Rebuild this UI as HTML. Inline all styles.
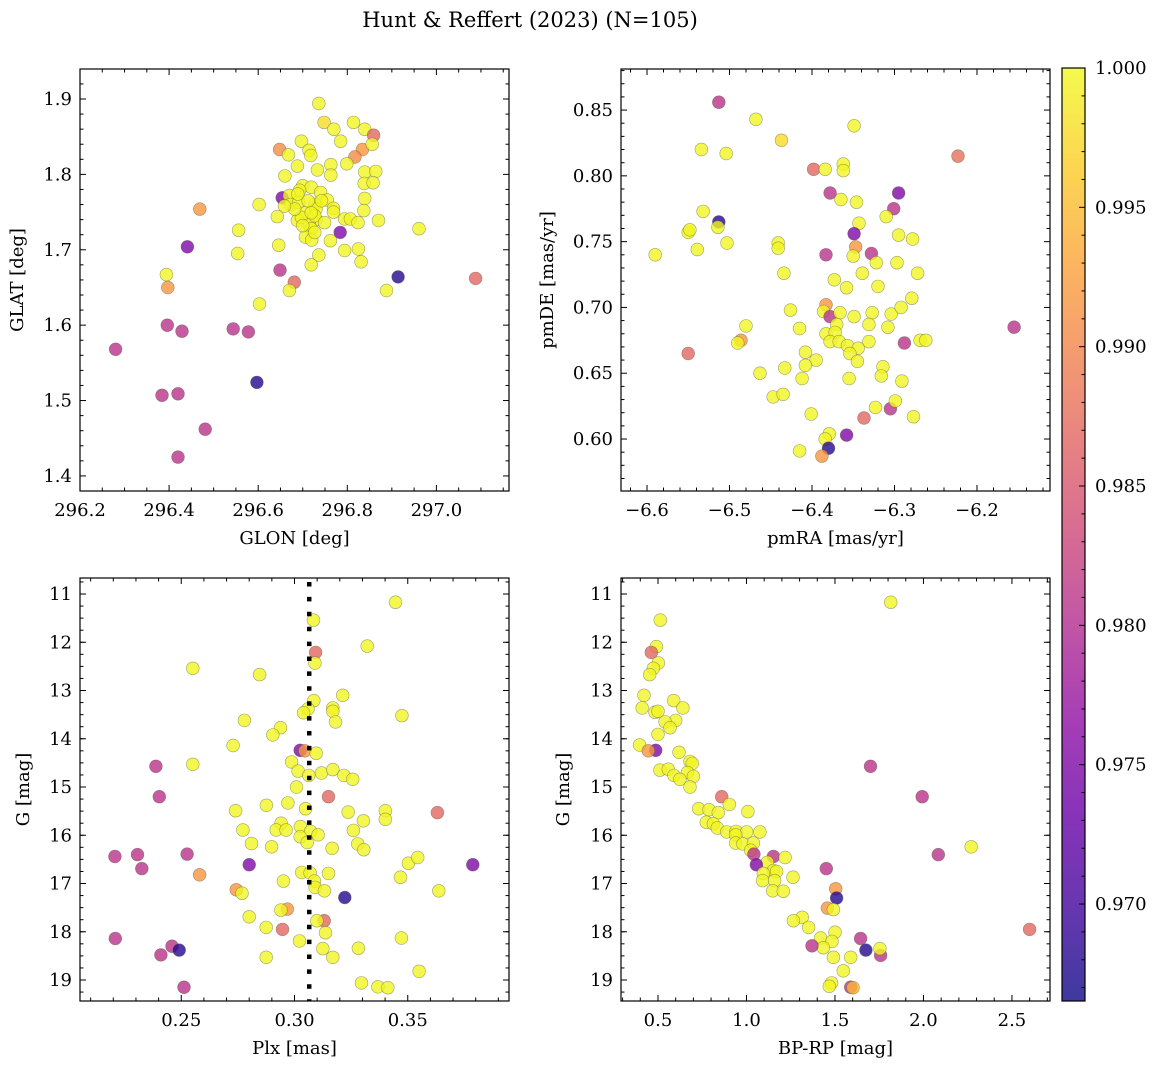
<!DOCTYPE html>
<html><head><meta charset="utf-8"><style>
html,body{margin:0;padding:0;background:#fff;}
svg{display:block;font-family:"DejaVu Serif","Liberation Serif",serif;}
</style></head><body>
<svg id="fig" width="1161" height="1068" viewBox="0 0 1161 1068" xmlns="http://www.w3.org/2000/svg">
<defs>
<linearGradient id="plasmaGrad" x1="0" y1="1" x2="0" y2="0">
<stop offset="0" stop-color="#0d0887"/><stop offset="0.1" stop-color="#41049d"/><stop offset="0.2" stop-color="#6a00a8"/><stop offset="0.3" stop-color="#8f0da4"/><stop offset="0.4" stop-color="#b12a90"/><stop offset="0.5" stop-color="#cc4778"/><stop offset="0.6" stop-color="#e16462"/><stop offset="0.7" stop-color="#f2844b"/><stop offset="0.8" stop-color="#fca636"/><stop offset="0.9" stop-color="#fcce25"/><stop offset="1" stop-color="#f0f921"/>
</linearGradient>
</defs>
<text x="530" y="27" text-anchor="middle" font-size="21">Hunt &amp; Reffert (2023) (N=105)</text>
</svg>
<script>
// ---- data ----
const glonVals=[296.736,296.748,296.770,296.814,296.839,296.859,296.785,296.697,296.648,296.834,296.856,296.817,296.714,296.718,296.668,296.688,296.733,296.763,296.799,296.763,296.660,296.839,296.864,296.838,296.858,296.654,296.700,296.719,296.740,296.693,296.670,296.673,296.691,296.727,296.755,296.769,296.769,296.706,296.730,296.688,296.697,296.730,296.715,296.719,296.706,296.720,296.839,296.837,296.794,296.807,296.824,296.870,296.602,296.643,296.784,296.762,296.794,296.825,296.831,296.736,296.719,296.646,296.556,296.554,296.469,296.441,296.961,296.914,296.888,297.088,296.649,296.681,296.670,296.603,296.394,296.397,296.396,296.429,296.544,296.578,296.280,296.597,296.384,296.420,296.481,296.420,296.727,296.712,296.742,296.682,296.700,296.727,296.689,296.749,296.659,296.719];
const glatVals=[1.894,1.869,1.860,1.869,1.860,1.852,1.844,1.844,1.833,1.833,1.840,1.823,1.832,1.825,1.826,1.811,1.806,1.813,1.814,1.799,1.798,1.803,1.804,1.788,1.789,1.769,1.785,1.783,1.776,1.779,1.772,1.760,1.763,1.760,1.766,1.755,1.750,1.749,1.754,1.739,1.743,1.740,1.733,1.728,1.717,1.713,1.768,1.752,1.741,1.741,1.736,1.739,1.760,1.744,1.723,1.712,1.699,1.701,1.684,1.693,1.680,1.706,1.726,1.695,1.754,1.704,1.728,1.664,1.646,1.662,1.673,1.657,1.646,1.628,1.667,1.650,1.600,1.592,1.595,1.591,1.568,1.524,1.507,1.509,1.462,1.425,1.745,1.765,1.765,1.754,1.732,1.723,1.774,1.736,1.758,1.749];
const prob1=[1,0.998,1,1,1,0.987,1,1,0.991,0.992,1,0.991,1,1,1,1,1,1,1,1,1,1,1,1,1,0.975,1,1,1,1,1,1,1,1,1,1,1,1,1,1,1,1,1,1,1,1,1,1,1,1,1,1,1,1,0.975,1,1,1,1,1,1,1,1,1,0.992,0.975,1,0.968,1,0.987,0.981,0.987,1,1,1,0.992,0.981,0.981,0.981,0.981,0.981,0.968,0.981,0.981,0.981,0.981,1,1,1,1,1,1,1,1,1,1];

const pmraVals=[-6.513,-6.468,-6.437,-6.349,-6.534,-6.504,-6.223,-6.398,-6.384,-6.362,-6.362,-6.378,-6.365,-6.346,-6.295,-6.301,-6.310,-6.343,-6.532,-6.513,-6.514,-6.550,-6.548,-6.503,-6.539,-6.590,-6.441,-6.441,-6.349,-6.347,-6.383,-6.328,-6.350,-6.322,-6.295,-6.278,-6.297,-6.434,-6.373,-6.339,-6.272,-6.358,-6.320,-6.279,-6.426,-6.383,-6.386,-6.378,-6.366,-6.349,-6.327,-6.331,-6.370,-6.304,-6.292,-6.308,-6.155,-6.480,-6.486,-6.490,-6.550,-6.415,-6.383,-6.372,-6.378,-6.367,-6.357,-6.344,-6.331,-6.354,-6.345,-6.288,-6.269,-6.262,-6.408,-6.395,-6.408,-6.433,-6.463,-6.412,-6.355,-6.314,-6.316,-6.291,-6.447,-6.435,-6.401,-6.323,-6.305,-6.299,-6.337,-6.277,-6.379,-6.384,-6.358,-6.380,-6.415,-6.388];
const pmdeVals=[0.856,0.843,0.827,0.838,0.820,0.817,0.815,0.805,0.805,0.809,0.804,0.787,0.782,0.780,0.787,0.775,0.769,0.764,0.773,0.765,0.761,0.757,0.759,0.749,0.744,0.740,0.749,0.745,0.756,0.746,0.740,0.741,0.739,0.734,0.755,0.752,0.734,0.726,0.721,0.726,0.726,0.715,0.716,0.707,0.698,0.702,0.697,0.693,0.696,0.693,0.696,0.687,0.687,0.695,0.700,0.685,0.685,0.686,0.675,0.673,0.665,0.684,0.680,0.681,0.674,0.674,0.671,0.669,0.674,0.665,0.659,0.673,0.675,0.675,0.666,0.660,0.656,0.654,0.650,0.646,0.646,0.655,0.648,0.644,0.632,0.634,0.619,0.624,0.623,0.629,0.616,0.617,0.604,0.600,0.603,0.593,0.591,0.587];
const prob2=[0.981,1,0.998,1,1,1,0.988,0.987,1,1,1,0.981,1,1,0.975,0.981,1,1,1,0.968,1,1,1,1,1,1,1,1,0.975,0.992,0.981,0.981,1,1,1,1,1,1,1,1,1,1,1,1,1,0.992,1,0.981,1,1,1,1,1,1,1,1,0.981,1,0.992,1,0.987,1,1,1,1,1,1,1,1,1,1,0.981,1,1,1,1,1,1,1,1,1,1,1,1,1,1,1,1,0.981,1,0.987,1,1,1,0.975,0.968,1,0.992];

const plxVals=[0.3446,0.3084,0.3321,0.3093,0.3090,0.2551,0.2846,0.3213,0.3085,0.3169,0.3169,0.3060,0.3040,0.3181,0.3474,0.2779,0.2938,0.2904,0.2729,0.3025,0.3046,0.3096,0.2388,0.2551,0.2987,0.3016,0.3063,0.3119,0.3169,0.3218,0.3257,0.3009,0.2403,0.3150,0.2740,0.2876,0.2971,0.3049,0.3237,0.3401,0.3401,0.3304,0.3631,0.2941,0.2919,0.2963,0.2772,0.3026,0.3071,0.3104,0.3025,0.3056,0.3260,0.2810,0.2899,0.3166,0.3279,0.3306,0.2207,0.2307,0.2326,0.2526,0.2800,0.3503,0.3544,0.3787,0.2581,0.3032,0.3069,0.3150,0.3088,0.2951,0.3468,0.3091,0.3132,0.2743,0.2768,0.3222,0.3637,0.2968,0.2940,0.2800,0.3131,0.3099,0.2875,0.2947,0.3137,0.3022,0.2209,0.3472,0.2459,0.2491,0.2410,0.3125,0.3282,0.3169,0.2875,0.3550,0.3296,0.3368,0.3412,0.2512];
const gmag3=[11.17,11.54,12.08,12.21,12.43,12.54,12.67,13.10,13.21,13.36,13.43,13.38,13.46,13.65,13.52,13.62,13.77,13.92,14.14,14.24,14.25,14.30,14.57,14.53,14.48,14.67,14.76,14.71,14.64,14.76,14.84,15.00,15.20,15.20,15.49,15.38,15.33,15.45,15.52,15.49,15.67,15.70,15.53,15.75,15.89,15.89,15.89,15.82,15.92,15.99,16.03,16.15,15.90,16.17,16.24,16.27,16.18,16.30,16.44,16.40,16.69,16.39,16.61,16.58,16.46,16.61,16.82,16.77,16.78,16.79,16.95,16.95,16.87,17.08,17.15,17.13,17.20,17.29,17.15,17.53,17.55,17.69,17.77,17.77,17.91,17.95,18.02,18.19,18.14,18.13,18.30,18.38,18.48,18.35,18.34,18.53,18.53,18.82,19.06,19.14,19.16,19.15];
const prob3=[1,1,1,0.987,1,1,1,1,1,1,1,1,1,1,1,1,1,1,1,0.975,0.992,1,0.981,1,1,1,1,1,1,1,1,1,0.981,0.987,1,1,1,1,1,1,1,1,0.987,1,1,1,1,1,1,1,1,1,1,1,1,1,1,1,0.981,0.981,0.981,0.981,0.975,1,1,0.975,0.992,1,1,1,1,1,1,1,1,0.992,1,0.968,1,0.992,1,1,0.987,1,1,0.987,1,1,0.981,1,0.981,0.968,0.981,1,1,1,1,1,1,1,1,0.981];

const bprpVals=[1.815,0.513,0.491,0.462,0.502,0.474,0.453,0.421,0.410,0.589,0.641,0.483,0.500,0.600,0.540,0.568,0.500,0.396,0.487,0.445,0.619,0.681,0.694,0.511,0.558,0.590,0.666,0.700,0.624,0.681,0.860,0.903,0.730,0.788,0.841,1.008,0.773,0.813,0.835,0.888,0.941,1.001,1.076,0.939,0.939,0.980,1.039,1.024,1.042,1.152,1.218,1.118,1.056,1.701,1.993,2.084,2.270,1.451,1.152,1.170,1.095,1.091,1.159,1.263,1.148,1.208,1.504,1.509,1.457,1.491,1.315,1.265,1.351,1.500,1.419,1.483,1.434,1.370,1.645,1.675,1.758,1.754,1.491,1.589,1.547,1.481,1.468,1.589,1.602,2.600];
const gmag4=[11.17,11.54,12.09,12.21,12.43,12.54,12.67,13.10,13.36,13.21,13.36,13.45,13.43,13.62,13.65,13.77,13.91,14.13,14.24,14.25,14.28,14.47,14.51,14.65,14.63,14.76,14.70,14.78,14.84,15.00,15.20,15.36,15.45,15.47,15.53,15.51,15.73,15.76,15.85,15.93,15.92,15.93,15.93,15.99,16.16,16.18,16.16,16.31,16.39,16.44,16.46,16.56,16.61,14.57,15.20,16.40,16.24,16.69,16.73,16.75,16.79,16.94,16.94,16.87,17.15,17.16,17.11,17.30,17.51,17.54,17.70,17.77,17.91,18.01,18.13,18.20,18.33,18.29,18.14,18.38,18.49,18.35,18.53,18.53,18.81,19.06,19.13,19.15,19.16,17.95];
const prob4=[1,1,1,0.987,1,1,1,1,1,1,1,1,1,1,1,1,1,1,0.975,0.992,1,1,1,1,1,1,1,1,1,1,0.987,1,1,1,1,1,1,1,1,1,1,1,1,1,1,1,1,1,0.981,0.981,1,1,0.975,0.981,0.981,0.981,1,0.981,1,1,1,1,1,1,1,1,0.992,0.968,0.992,1,1,1,1,1,1,1,1,0.981,0.981,0.968,0.981,1,1,1,1,1,1,0.981,0.995,0.987];

const cbarTicks=[0.970,0.975,0.980,0.985,0.990,0.995,1.000];
const cMin=0.96652, cMax=1.0003;

// ---- helpers ----
const NS="http://www.w3.org/2000/svg";
const svg=document.getElementById('fig');
const FS=18;
function mk(tag,attrs,parent){const e=document.createElementNS(NS,tag);for(const k in attrs)e.setAttribute(k,attrs[k]);(parent||svg).appendChild(e);return e;}
const stops=[[13,8,135],[65,4,157],[106,0,168],[143,13,164],[177,42,144],[204,71,120],[225,100,98],[242,132,75],[252,166,54],[252,206,37],[240,249,33]];
function plasma(t){t=Math.max(0,Math.min(1,t));const f=t*10,i=Math.min(9,Math.floor(f)),u=f-i;const a=stops[i],b=stops[i+1];return 'rgb('+a.map((v,k)=>Math.round(v+(b[k]-v)*u)).join(',')+')';}
function colorOf(p){return plasma((p-cMin)/(cMax-cMin));}
function fmt(v,d){const s=Math.abs(v).toFixed(d);return (v<0?'\u2212':'')+s;}

function panel(name,box,xr,yr,xMaj,xMinStep,xDec,yMaj,yMinStep,yDec,xs,ys,ps,xlabel,ylabel,ylabX){
  const [x0,y0,x1,y1]=box;
  const g=mk('g',{});
  
  
  const sx=v=>x0+(v-xr[0])/(xr[1]-xr[0])*(x1-x0);
  const sy=v=>y1-(v-yr[0])/(yr[1]-yr[0])*(y1-y0);
  const pts=mk('g',{},g);
  
  
  for(let i=0;i<xs.length;i++){
    const c=mk('circle',{cx:sx(xs[i]).toFixed(1),cy:sy(ys[i]).toFixed(1),r:6.4,fill:colorOf(ps[i]),'fill-opacity':0.8,stroke:'rgba(90,90,60,0.55)','stroke-width':0.6},pts);
    
    
  }
  const tk=mk('g',{stroke:'#000','stroke-width':1},g);
  
  
  const eps=1e-9;
  let start=Math.ceil((xr[0]-eps)/xMinStep);
  for(let k=start;k*xMinStep<=xr[1]+eps;k++){
    const v=k*xMinStep,X=sx(v);
    const major=xMaj.some(m=>Math.abs(m-v)<xMinStep/10);
    const L=major?6:3.5;
    mk('line',{x1:X,y1:y1,x2:X,y2:y1-L},tk);mk('line',{x1:X,y1:y0,x2:X,y2:y0+L},tk);
  }
  start=Math.ceil((yr[0]-eps)/yMinStep);
  for(let k=start;k*yMinStep<=yr[1]+eps;k++){
    const v=k*yMinStep,Y=sy(v);
    const major=yMaj.some(m=>Math.abs(m-v)<yMinStep/10);
    const L=major?6:3.5;
    mk('line',{x1:x0,y1:Y,x2:x0+L,y2:Y},tk);mk('line',{x1:x1,y1:Y,x2:x1-L,y2:Y},tk);
  }
  xMaj.forEach(v=>{const t=mk('text',{x:sx(v),y:y1+25,'text-anchor':'middle','font-size':FS},g);t.textContent=fmt(v,xDec);});
  yMaj.forEach(v=>{const t=mk('text',{x:x0-8,y:sy(v)+6,'text-anchor':'end','font-size':FS},g);t.textContent=fmt(v,yDec);});
  const xl=mk('text',{x:(x0+x1)/2,y:y1+53,'text-anchor':'middle','font-size':FS},g);xl.textContent=xlabel;
  
  const yl=mk('text',{x:0,y:0,'text-anchor':'middle','font-size':FS,transform:'translate('+ylabX+','+((y0+y1)/2)+') rotate(-90)'},g);yl.textContent=ylabel;
  
  const fr=mk('rect',{x:x0,y:y0,width:x1-x0,height:y1-y0,fill:'none',stroke:'#000','stroke-width':1.2},g);
  
  return {sx,sy,g};
}

panel('glon-glat-panel',[80,69,509,491],[296.2,297.163],[1.380,1.9398],[296.2,296.4,296.6,296.8,297.0],0.05,1,[1.4,1.5,1.6,1.7,1.8,1.9],0.02,1,glonVals,glatVals,prob1,'GLON [deg]','GLAT [deg]',23);
panel('pm-panel',[621,69,1050,491],[-6.6315,-6.1115],[0.5605,0.8812],[-6.6,-6.5,-6.4,-6.3,-6.2],0.02,1,[0.60,0.65,0.70,0.75,0.80,0.85],0.01,2,pmraVals,pmdeVals,prob2,'pmRA [mas/yr]','pmDE [mas/yr]',553);
const p3=panel('plx-g-panel',[80,578,509,1001],[0.2053,0.3947],[-19.435,-10.668],[0.25,0.30,0.35],0.01,2,[],0.25,0,plxVals,gmag3.map(v=>-v),prob3,'Plx [mas]','G [mag]',29);
const p4=panel('cmd-panel',[621,578,1050,1001],[0.291,2.715],[-19.435,-10.668],[0.5,1.0,1.5,2.0,2.5],0.1,1,[],0.25,0,bprpVals,gmag4.map(v=>-v),prob4,'BP-RP [mag]','G [mag]',569);
const gTicks=[11,12,13,14,15,16,17,18,19];
[p3,p4].forEach((p,idx)=>{
  const x0=idx?621:80;
  gTicks.forEach(v=>{
    const Y=p.sy(-v);
    const t=mk('text',{x:x0-8,y:Y+6,'text-anchor':'end','font-size':FS},p.g);t.textContent=String(v);
    
    mk('line',{x1:x0,y1:Y,x2:x0+6,y2:Y,stroke:'#000'},p.g);
    mk('line',{x1:x0+429,y1:Y,x2:x0+423,y2:Y,stroke:'#000'},p.g);
  });
});
const plxMean=0.3065;
const ml=mk('line',{x1:p3.sx(plxMean),y1:582,x2:p3.sx(plxMean),y2:1001,stroke:'#000','stroke-width':4.5,'stroke-dasharray':'4.5 10.4'});



const cb=mk('g',{});


const cbx0=1062,cbx1=1085,cby0=68,cby1=1001;
const cy=v=>cby1-(v-cMin)/(1.0-cMin)*(cby1-cby0);
mk('rect',{x:cbx0,y:cby0,width:cbx1-cbx0,height:cby1-cby0,fill:'url(#plasmaGrad)','fill-opacity':0.8},cb);
mk('rect',{x:cbx0,y:cby0,width:cbx1-cbx0,height:cby1-cby0,fill:'none',stroke:'#000','stroke-width':1.2},cb);
for(let k=967;k<=1000;k++){const Y=cy(k/1000);const major=k%5===0;mk('line',{x1:cbx1,y1:Y,x2:cbx1-(major?6:3.5),y2:Y,stroke:'#000'},cb);}
cbarTicks.forEach(v=>{const t=mk('text',{x:cbx1+10,y:cy(v)+6,'font-size':FS},cb);t.textContent=v.toFixed(3);});
</script>
</body></html>
